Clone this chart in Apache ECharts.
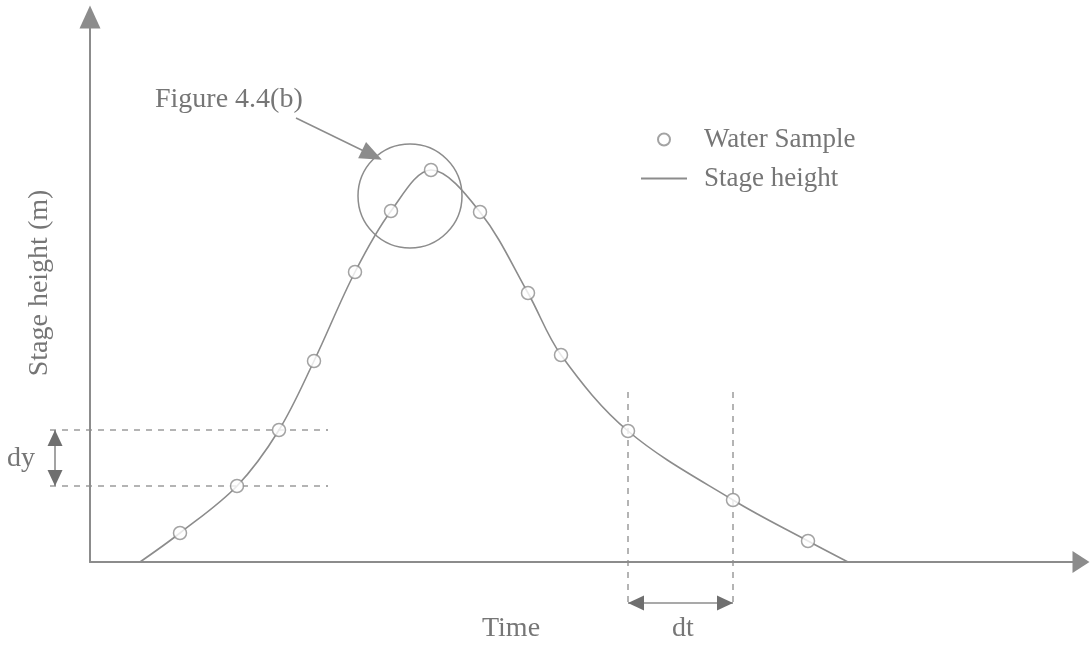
<!DOCTYPE html>
<html>
<head>
<meta charset="utf-8">
<script src="https://cdn.jsdelivr.net/npm/echarts@6/dist/echarts.min.js"></script>
<style>
  html, body { margin: 0; padding: 0; background: #fff; }
  #main { width: 1091px; height: 647px; }
</style>
</head>
<body>
<div id="main"></div>
<script>
// sample times / stage heights (arbitrary units)
var timeSamples = [90, 147, 189, 224, 265, 301, 341, 390, 438, 471, 538, 643, 718];
var heightSamples = [29, 76, 132, 201, 290, 351, 392, 350, 269, 207, 131, 62, 21];
// where the hydrograph leaves and returns to zero
var curveStart = [50, 0];
var curveEnd = [758, 0];
// figure 4.4(b) zoom circle around the peak
var zoomCentre = [320, 366];

var grey = '#8c8c8c';
var dark = '#6f6f6f';
var txt = '#767676';
var serif = 'Liberation Serif';
var font = '28px "Liberation Serif"';

var chart = echarts.init(document.getElementById('main'));

var samples = timeSamples.map(function (t, i) { return [t, heightSamples[i]]; });
var curve = [curveStart].concat(samples, [curveEnd]);

// guide lines for dy and dt, taken from the samples
var dyLow = heightSamples[1], dyHigh = heightSamples[2];
var dtLeft = timeSamples[10], dtRight = timeSamples[11];

// segments: x1, y1, x2, y2, kind (0 = dashed guide, 1 = double arrow)
var annot = [
    [-40, dyHigh, 238, dyHigh, 0],
    [-40, dyLow, 238, dyLow, 0],
    [dtLeft, 170, dtLeft, -45, 0],
    [dtRight, 170, dtRight, -45, 0],
    [-35, dyHigh, -35, dyLow, 1],
    [dtLeft, -41, dtRight, -41, 1]
];

function head(tip, from) {
    var dx = tip[0] - from[0], dy = tip[1] - from[1];
    var len = Math.sqrt(dx * dx + dy * dy);
    var ux = dx / len, uy = dy / len;
    var L = 16, W = 7.5;
    var bx = tip[0] - L * ux, by = tip[1] - L * uy;
    return {
        type: 'polygon',
        shape: { points: [tip, [bx - W * uy, by + W * ux], [bx + W * uy, by - W * ux]] },
        style: { fill: dark }
    };
}

function renderAnnot(params, api) {
    var a = api.coord([api.value(0), api.value(1)]);
    var b = api.coord([api.value(2), api.value(3)]);
    var kind = api.value(4);
    if (kind === 0) {
        return {
            type: 'line',
            shape: { x1: a[0], y1: a[1], x2: b[0], y2: b[1] },
            style: { stroke: grey, lineWidth: 1.3, lineDash: [6, 6] }
        };
    }
    return {
        type: 'group',
        children: [
            { type: 'line', shape: { x1: a[0], y1: a[1], x2: b[0], y2: b[1] }, style: { stroke: grey, lineWidth: 1.6 } },
            head(a, b),
            head(b, a)
        ]
    };
}

var option = {
    animation: false,
    backgroundColor: '#fff',
    grid: { left: 90, right: 10, top: 17, bottom: 85 },
    xAxis: {
        type: 'value', min: 0, max: 991,
        axisLine: { show: true, onZero: false, symbol: ['none', 'triangle'], symbolSize: [22, 17],
            lineStyle: { color: grey, width: 2 } },
        axisTick: { show: false }, axisLabel: { show: false }, splitLine: { show: false }
    },
    yAxis: {
        type: 'value', min: 0, max: 545,
        axisLine: { show: true, onZero: false, symbol: ['none', 'triangle'], symbolSize: [21, 23],
            lineStyle: { color: grey, width: 2 } },
        axisTick: { show: false }, axisLabel: { show: false }, splitLine: { show: false }
    },
    legend: {
        data: [
            { name: 'Water Sample' },
            { name: 'Stage height', itemStyle: { color: 'rgba(0,0,0,0)', borderWidth: 0 } }
        ],
        orient: 'vertical',
        left: 640, top: 126,
        padding: 0,
        itemWidth: 46, itemHeight: 12, itemGap: 12,
        selectedMode: false,
        textStyle: { fontFamily: serif, fontSize: 27, color: txt, lineHeight: 27, padding: [0, 0, 0, 12] }
    },
    graphic: [
        { type: 'text', left: 155, top: 86, style: { text: 'Figure 4.4(b)', font: font, fill: txt } },
        { type: 'text', x: 511, y: 629, style: { text: 'Time', font: font, fill: txt, align: 'center', verticalAlign: 'middle' } },
        { type: 'text', x: 683, y: 629, style: { text: 'dt', font: font, fill: txt, align: 'center', verticalAlign: 'middle' } },
        { type: 'text', x: 21, y: 459, style: { text: 'dy', font: font, fill: txt, align: 'center', verticalAlign: 'middle' } },
        { type: 'text', x: 40, y: 283, rotation: Math.PI / 2,
            style: { text: 'Stage height (m)', font: font, fill: txt, align: 'center', verticalAlign: 'middle' } }
    ],
    series: [
        {
            name: 'Stage height',
            type: 'line',
            data: curve,
            smooth: 0.35,
            symbol: 'none',
            color: grey,
            lineStyle: { color: grey, width: 1.6 },
            z: 2,
            markLine: {
                silent: true,
                label: { show: false },
                lineStyle: { color: grey, width: 1.5, type: 'solid' },
                symbol: ['none', 'triangle'],
                symbolSize: [18, 22],
                itemStyle: { color: dark },
                data: [[{ coord: [206, 444] }, { coord: [282, 407] }]]
            },
            markPoint: {
                silent: true,
                label: { show: false },
                symbol: 'circle',
                symbolSize: 104,
                itemStyle: { color: 'rgba(0,0,0,0)', borderColor: grey, borderWidth: 1.5 },
                data: [{ coord: zoomCentre }]
            }
        },
        {
            name: 'Water Sample',
            type: 'scatter',
            data: samples,
            symbol: 'circle',
            symbolSize: 13,
            color: '#fff',
            itemStyle: { color: '#fff', borderColor: grey, borderWidth: 1.5 },
            z: 4
        },
        {
            type: 'custom',
            data: annot,
            encode: { x: [0, 2], y: [1, 3] },
            renderItem: renderAnnot,
            clip: false,
            silent: true,
            z: 1
        }
    ]
};

chart.setOption(option);
</script>
</body>
</html>
